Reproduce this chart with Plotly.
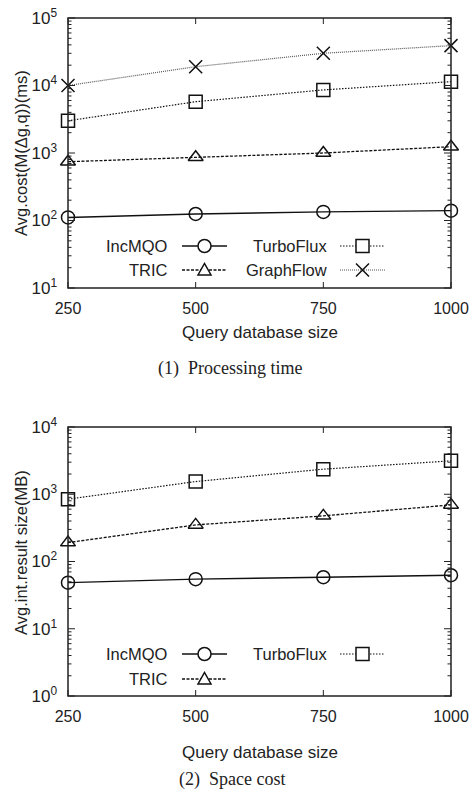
import math
import plotly.graph_objects as go

# ---------------- data ----------------
sizes = [250, 500, 750, 1000]
x_ticks = [250, 500, 750, 1000]

time_incmqo = [111, 125, 134, 140]
time_tric = [743, 863, 1000, 1240]
time_turboflux = [3000, 5750, 8600, 11400]
time_graphflow = [10000, 19000, 30000, 39000]

space_incmqo = [48.5, 54.6, 58.4, 62.5]
space_tric = [191, 350, 477, 695]
space_turboflux = [845, 1545, 2360, 3140]

time_yticks = [10, 100, 1000, 10000, 100000]
time_yticktext = ["10<sup>1</sup>", "10<sup>2</sup>", "10<sup>3</sup>", "10<sup>4</sup>", "10<sup>5</sup>"]
space_yticks = [1, 10, 100, 1000, 10000]
space_yticktext = ["10<sup>0</sup>", "10<sup>1</sup>", "10<sup>2</sup>", "10<sup>3</sup>", "10<sup>4</sup>"]

series_names = ["IncMQO", "TRIC", "TurboFlux", "GraphFlow"]

# ---------------- styles ----------------
W, H = 470, 792
FONT = "Liberation Sans, Arial, sans-serif"
SERIF = "Liberation Serif, Times New Roman, serif"
INK = "#222"
styles = {
    "IncMQO": dict(dash="solid", color="#111", width=1.4, symbol="circle-open"),
    "TRIC": dict(dash="3px,1.5px", color="#111", width=1.3, symbol="triangle-up-open"),
    "TurboFlux": dict(dash="1.5px,1.5px", color="#111", width=1.2, symbol="square-open"),
    "GraphFlow": dict(dash="1px,1px", color="#555", width=1.2, symbol="x-thin-open"),
}
MSIZE = 13
X_RANGE = [250, 1000]
TOP_RANGE = [1, 5]
BOT_RANGE = [0, 4]


def px(x):
    return x / W


def py(y):
    return 1 - y / H


xdom = [px(68), px(451)]
ydom_top = [py(288), py(18)]
ydom_bot = [py(696), py(427)]

fig = go.Figure()


def add_series(name, xs, ys, xa, ya):
    s = styles[name]
    fig.add_trace(go.Scatter(
        x=xs, y=ys, mode="lines+markers", name=name, showlegend=False,
        xaxis=xa, yaxis=ya,
        line=dict(color=s["color"], width=s["width"], dash=s["dash"]),
        marker=dict(symbol=s["symbol"], size=MSIZE, color="#111",
                    line=dict(color="#111", width=1.5)),
        cliponaxis=False,
    ))


add_series("IncMQO", sizes, time_incmqo, "x", "y")
add_series("TRIC", sizes, time_tric, "x", "y")
add_series("TurboFlux", sizes, time_turboflux, "x", "y")
add_series("GraphFlow", sizes, time_graphflow, "x", "y")

add_series("IncMQO", sizes, space_incmqo, "x2", "y2")
add_series("TRIC", sizes, space_tric, "x2", "y2")
add_series("TurboFlux", sizes, space_turboflux, "x2", "y2")

annotations = []
shapes = []


# ---------------- frame and ticks (paper-referenced shapes) ----------------
def minor_vals(lo_exp, hi_exp):
    return [m * 10 ** e for e in range(lo_exp, hi_exp) for m in range(2, 10)]


def add_frame(ydom, yrng, yticks):
    x0, x1 = xdom
    y0, y1 = ydom
    line_main = dict(color=INK, width=1.5)
    line_tick = dict(color=INK, width=1)
    shapes.append(dict(type="rect", xref="paper", yref="paper", x0=x0, x1=x1, y0=y0, y1=y1,
                       line=line_main, fillcolor="rgba(0,0,0,0)", layer="above"))
    for t in x_ticks:
        xp = x0 + (t - X_RANGE[0]) / (X_RANGE[1] - X_RANGE[0]) * (x1 - x0)
        for anchor, ln in ((y0, 6), (y1, -6)):
            shapes.append(dict(type="line", xref="paper", yref="paper", x0=xp, x1=xp,
                               ysizemode="pixel", yanchor=anchor, y0=0, y1=ln,
                               line=line_tick, layer="above"))
    for vals, ln in ((yticks, 7), (minor_vals(yrng[0], yrng[1]), 3.5)):
        for v in vals:
            frac = (math.log10(v) - yrng[0]) / (yrng[1] - yrng[0])
            yp = y0 + frac * (y1 - y0)
            for anchor, sgn in ((x0, 1), (x1, -1)):
                shapes.append(dict(type="line", xref="paper", yref="paper", y0=yp, y1=yp,
                                   xsizemode="pixel", xanchor=anchor, x0=0, x1=sgn * ln,
                                   line=line_tick, layer="above"))


add_frame(ydom_top, TOP_RANGE, time_yticks)
add_frame(ydom_bot, BOT_RANGE, space_yticks)

# ---------------- manual legends (paper coordinates, pixel-sized symbols) ----------------
legend_cols = [(170, 182, 227), (329, 340, 385)]  # text right edge, line start, line end
symbol_paths = {
    "circle-open": None,
    "triangle-up-open": "M -6.5,-5 L 6.5,-5 L 0,6.5 Z",
    "square-open": "M -6.5,-6.5 L 6.5,-6.5 L 6.5,6.5 L -6.5,6.5 Z",
    "x-thin-open": "M -6.5,-6.5 L 6.5,6.5 M -6.5,6.5 L 6.5,-6.5",
}


def add_legend(entries, rows_y):
    for name in entries:
        col = 0 if name in ("IncMQO", "TRIC") else 1
        row = 0 if name in ("IncMQO", "TurboFlux") else 1
        tx, l0, l1 = legend_cols[col]
        yy = rows_y[row]
        s = styles[name]
        annotations.append(dict(
            x=px(tx), y=py(yy), xref="paper", yref="paper", text=name, showarrow=False,
            xanchor="right", yanchor="middle",
            font=dict(family=FONT, size=16.5, color=INK)))
        shapes.append(dict(
            type="line", xref="paper", yref="paper", x0=px(l0), x1=px(l1),
            y0=py(yy), y1=py(yy),
            line=dict(color=s["color"], width=s["width"], dash=s["dash"])))
        cx = px((l0 + l1) / 2)
        cy = py(yy)
        path = symbol_paths[s["symbol"]]
        common = dict(xref="paper", yref="paper", xsizemode="pixel", ysizemode="pixel",
                      xanchor=cx, yanchor=cy, line=dict(color="#111", width=1.5))
        if path is None:
            shapes.append(dict(type="circle", x0=-6.5, x1=6.5, y0=-6.5, y1=6.5,
                               fillcolor="white", **common))
        elif s["symbol"] == "x-thin-open":
            shapes.append(dict(type="path", path=path, **common))
        else:
            shapes.append(dict(type="path", path=path, fillcolor="white", **common))


add_legend(series_names, (246, 270))
add_legend(series_names[:3], (654, 679))


# ---------------- axis titles & captions ----------------
def ann(x, y, text, size, family=FONT, angle=0):
    return dict(x=px(x), y=py(y), xref="paper", yref="paper", text=text, textangle=angle,
                showarrow=False, xanchor="center", yanchor="middle",
                font=dict(family=family, size=size, color=INK))


annotations += [
    ann(21, 153, "Avg.cost(M(Δg,q))(ms)", 16.5, angle=-90),
    ann(21, 553, "Avg.int.result size(MB)", 16.5, angle=-90),
    ann(260, 333, "Query database size", 17),
    ann(260, 752, "Query database size", 17),
    ann(230, 369, "(1)&nbsp; Processing time", 18, SERIF),
    ann(232, 779, "(2)&nbsp; Space cost", 18, SERIF),
]


def xaxis_cfg(anchor):
    return dict(
        domain=xdom, range=X_RANGE, tickmode="array", tickvals=x_ticks,
        ticks="", anchor=anchor, automargin=False, showline=False,
        showgrid=False, zeroline=False, ticklabelstandoff=9,
        tickfont=dict(family=FONT, size=16, color=INK),
    )


def yaxis_cfg(dom, rng, tv, tt, anchor):
    return dict(
        domain=dom, type="log", range=rng, tickmode="array", tickvals=tv, ticktext=tt,
        ticks="", automargin=False, showline=False, showgrid=False, zeroline=False,
        anchor=anchor, ticklabelstandoff=10,
        tickfont=dict(family=FONT, size=17, color=INK),
    )


fig.update_layout(
    width=W, height=H, margin=dict(l=0, r=0, t=0, b=0),
    paper_bgcolor="white", plot_bgcolor="white",
    showlegend=False,
    xaxis=xaxis_cfg("y"),
    yaxis=yaxis_cfg(ydom_top, TOP_RANGE, time_yticks, time_yticktext, "x"),
    xaxis2=xaxis_cfg("y2"),
    yaxis2=yaxis_cfg(ydom_bot, BOT_RANGE, space_yticks, space_yticktext, "x2"),
    annotations=annotations,
    shapes=shapes,
)

fig.write_html("out.html")
